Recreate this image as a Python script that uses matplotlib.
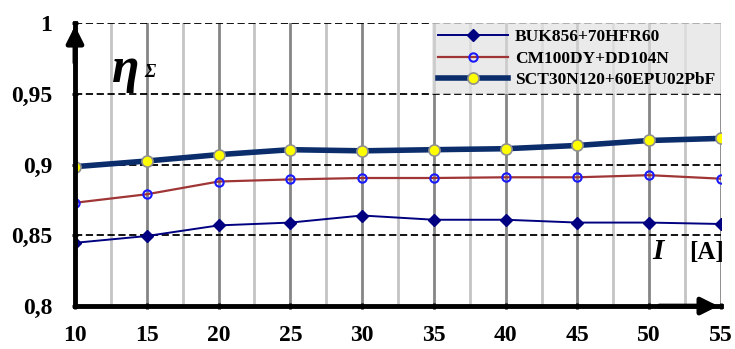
import matplotlib.pyplot as plt
from matplotlib.ticker import FuncFormatter, MultipleLocator

# current [A]
current = [10, 15, 20, 25, 30, 35, 40, 45, 50, 55]

# efficiency of the three transistor+diode sets
eta_buk = [0.8447, 0.8495, 0.857, 0.859, 0.864, 0.861, 0.861, 0.859, 0.859, 0.858]
eta_cm = [0.873, 0.879, 0.888, 0.8895, 0.8905, 0.8905, 0.891, 0.891, 0.8925, 0.890]
eta_sct = [0.8985, 0.9025, 0.907, 0.9105, 0.9097, 0.9105, 0.9112, 0.9135, 0.917, 0.9185]

labels = ["BUK856+70HFR60", "CM100DY+DD104N", "SCT30N120+60EPU02PbF"]

serif = ["Liberation Serif", "DejaVu Serif"]

fig = plt.figure(figsize=(7.35, 3.49), dpi=100)
ax = fig.add_axes([0.102, 0.123, 0.879, 0.811])

# grid
ax.xaxis.set_major_locator(MultipleLocator(5))
ax.xaxis.set_minor_locator(MultipleLocator(2.5))
ax.yaxis.set_major_locator(MultipleLocator(0.05))
ax.grid(True, axis="x", which="major", color="#858585", lw=2, zorder=0)
ax.grid(True, axis="x", which="minor", color="#c4c4c4", lw=2, zorder=0)
ax.grid(True, axis="y", which="major", color="black", lw=1.3, ls=(0, (4, 2)), zorder=0)

ax.plot(current, eta_buk, color="#000080", lw=1.4, marker="D", ms=6,
        mfc="#000080", mec="#000080", label=labels[0], zorder=3)
ax.plot(current, eta_cm, color="#a03535", lw=1.6, marker="o", ms=6,
        mfc="none", mec="#1a1aff", mew=1.5, label=labels[1], zorder=3)
ax.plot(current, eta_sct, color="#0b2d6b", lw=4, marker="o", ms=8,
        mfc="#ffff00", mec="#909090", mew=1.2, label=labels[2], zorder=4)

ax.set_xlim(10, 55)
ax.set_ylim(0.8, 1.0)

ax.yaxis.set_major_formatter(FuncFormatter(
    lambda v, p: ("%g" % round(v, 2)).replace(".", ",")))

for s in ["top", "right"]:
    ax.spines[s].set_visible(False)
for s in ["left", "bottom"]:
    ax.spines[s].set_linewidth(3.5)
    ax.spines[s].set_zorder(5)

ax.tick_params(axis="y", which="major", direction="inout", length=5,
               width=2, pad=14)
ax.tick_params(axis="x", which="major", direction="inout", length=5,
               width=2, pad=11)
ax.tick_params(axis="x", which="minor", length=0)
for lab in ax.get_xticklabels() + ax.get_yticklabels():
    lab.set_fontfamily(serif)
    lab.set_fontweight("bold")
    lab.set_fontsize(17)

# axis arrows
ax.annotate("", xy=(0, 1.0), xycoords="axes fraction", xytext=(0, 0.85),
            arrowprops=dict(arrowstyle="-|>", color="black", lw=3.5,
                            mutation_scale=25), zorder=6)
ax.annotate("", xy=(1.0, 0), xycoords="axes fraction", xytext=(0.9, 0),
            arrowprops=dict(arrowstyle="-|>", color="black", lw=3.5,
                            mutation_scale=25), zorder=6)

# axis labels
ax.text(0.058, 0.79, "η", transform=ax.transAxes, fontsize=36,
        fontfamily=serif, fontweight="bold", style="italic")
ax.text(0.107, 0.81, "Σ", transform=ax.transAxes, fontsize=13,
        fontfamily=serif, fontweight="bold", style="italic")
ax.text(0.893, 0.165, "I", transform=ax.transAxes, fontsize=21,
        fontfamily=serif, fontweight="bold", style="italic")
ax.text(0.95, 0.165, "[A]", transform=ax.transAxes, fontsize=18,
        fontfamily=serif, fontweight="bold")

leg = ax.legend(loc="upper right", bbox_to_anchor=(1.0, 1.0),
                prop={"family": serif, "weight": "bold", "size": 12.5},
                facecolor="#e4e4e4", framealpha=0.75, edgecolor="none",
                fancybox=False, handlelength=4.0, borderpad=0.35,
                labelspacing=0.3, borderaxespad=0, handletextpad=0.4)
leg.set_zorder(7)

fig.savefig("out.png", dpi=100)
